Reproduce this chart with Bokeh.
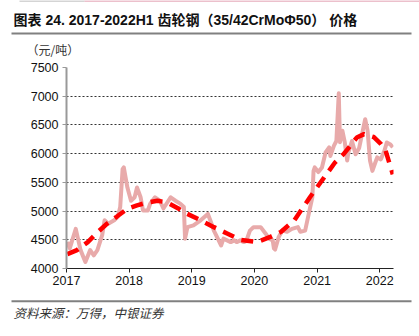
import pandas as pd
from bokeh.plotting import figure
from bokeh.layouts import column
from bokeh.models import Range1d, FixedTicker, DatetimeTickFormatter, ColumnDataSource
from bokeh.core.properties import value
from bokeh.embed import file_html
from bokeh.resources import INLINE

# ---------------- data ----------------
title_text = "图表 24. 2017-2022H1 齿轮钢（35/42CrMoΦ50） 价格"
unit_text = "（元/吨）"
source_text = "资料来源：万得，中银证券"

price_dates = [
    "2017-01-06", "2017-01-20", "2017-02-24", "2017-03-24", "2017-04-21", "2017-05-19",
    "2017-06-09", "2017-06-30", "2017-07-28", "2017-08-11", "2017-09-01", "2017-10-06",
    "2017-10-27", "2017-11-10", "2017-11-24", "2017-12-01", "2017-12-22", "2018-01-12",
    "2018-02-02", "2018-02-16", "2018-03-09", "2018-03-23", "2018-04-20", "2018-05-04",
    "2018-06-01", "2018-06-29", "2018-07-20", "2018-08-31", "2018-09-28", "2018-10-26",
    "2018-11-16", "2018-11-23", "2018-12-07", "2019-01-11", "2019-02-22", "2019-04-05",
    "2019-04-19", "2019-05-10", "2019-06-07", "2019-06-21", "2019-07-05", "2019-07-26",
    "2019-08-16", "2019-09-06", "2019-09-20", "2019-10-11", "2019-11-01", "2019-11-15",
    "2019-12-06", "2019-12-27", "2020-02-07", "2020-03-06", "2020-03-27", "2020-04-17",
    "2020-04-24", "2020-05-01", "2020-05-22", "2020-06-12", "2020-07-10", "2020-08-07",
    "2020-09-11", "2020-09-25", "2020-10-23", "2020-11-13", "2020-12-04", "2020-12-11",
    "2020-12-18", "2021-01-08", "2021-01-29", "2021-02-19", "2021-03-12", "2021-03-19",
    "2021-04-09", "2021-04-23", "2021-05-07", "2021-05-14", "2021-05-28", "2021-06-11",
    "2021-06-25", "2021-07-02", "2021-07-23", "2021-08-13", "2021-09-03", "2021-09-24",
    "2021-10-08", "2021-10-22", "2021-11-05", "2021-11-19", "2021-12-03", "2021-12-17",
    "2022-01-07", "2022-01-28", "2022-02-11", "2022-03-04", "2022-03-18",
]
price_values = [
    4460, 4350, 4690, 4320, 4115, 4320,
    4230, 4320, 4580, 4840, 4780, 4840,
    4900, 5070, 5730, 5760, 5410, 5180,
    5240, 5410, 5240, 5010, 5010, 5130,
    5240, 5180, 5045, 5240, 5180, 5130,
    5070, 4520, 4720, 4750, 4840, 4950,
    4840, 4660, 4490, 4400, 4520, 4490,
    4460, 4490, 4460, 4490, 4460, 4480,
    4660, 4720, 4720, 4610, 4520, 4490,
    4350, 4330, 4550, 4660, 4640, 4690,
    4720, 4640, 4660, 4950, 5240, 5700,
    5760, 5680, 5760, 6020, 6110, 5960,
    6140, 6220, 7050, 6200, 6400, 6200,
    5880, 6020, 6220, 5990, 6100, 6400,
    6600, 6400, 5880, 5700, 5820, 5935,
    5900, 6050, 6195, 6160, 6110,
]

trend_dates = [
    "2017-01-06", "2017-03-03", "2017-05-05", "2017-06-30", "2017-08-25", "2017-10-20",
    "2017-12-22", "2018-02-16", "2018-04-20", "2018-06-15", "2018-08-10", "2018-10-12",
    "2018-11-16", "2019-02-22", "2019-05-10", "2019-07-26", "2019-10-11", "2020-01-17",
    "2020-04-03", "2020-06-05", "2020-08-21", "2020-11-20", "2021-02-12", "2021-04-16",
    "2021-06-04", "2021-08-20", "2021-10-01", "2021-11-26", "2022-01-07", "2022-02-04",
    "2022-03-18",
]
trend_values = [
    4250, 4320, 4460, 4630, 4780, 4900,
    5040, 5100, 5150, 5180, 5150, 5050,
    4980, 4840, 4720, 4610, 4500, 4460,
    4550, 4640, 4840, 5240, 5590, 5850,
    5990, 6280, 6340, 6290, 6170, 6050,
    5640,
]

year_ticks = ["2017-01-01", "2018-01-01", "2019-01-01", "2020-01-01", "2021-01-01", "2022-01-01"]
y_ticks = [4000, 4500, 5000, 5500, 6000, 6500, 7000, 7500]

W = 419
MIXED = "Liberation Sans, Noto Sans CJK SC"
CJK = "Noto Sans CJK SC"


def no_align(f):
    try:
        f.frame_align = False
    except Exception:
        pass


def blank_fig(h):
    f = figure(width=W, height=h, x_range=Range1d(0, W), y_range=Range1d(h, 0),
               output_backend="svg", toolbar_location=None, min_border=0,
               min_border_left=0, min_border_right=0, min_border_top=0, min_border_bottom=0)
    f.axis.visible = False
    f.grid.visible = False
    f.outline_line_color = None
    f.background_fill_color = "white"
    f.border_fill_color = "white"
    no_align(f)
    return f


# ---------------- header ----------------
hdr = blank_fig(58)
hdr.segment(x0=[19], y0=[0.5], x1=[84], y1=[0.5], line_color="#AAAAAA", line_width=1)
hdr.segment(x0=[84], y0=[0.5], x1=[419], y1=[0.5], line_color="#D9829A", line_width=1.2)
hdr.text(x=[13], y=[19.5], text=[title_text], text_font=value(MIXED), text_font_style="bold",
         text_font_size="14px", text_baseline="middle", text_color="#111111")
hdr.segment(x0=[11], y0=[33], x1=[411], y1=[33], line_color="#808080", line_width=2)
hdr.text(x=[26], y=[49], text=[unit_text], text_font=value(CJK),
         text_font_size="12px", text_baseline="middle", text_color="#333333")

# ---------------- main chart ----------------
pdates = pd.to_datetime(price_dates)
tdates = pd.to_datetime(trend_dates)
tick_ms = [int(pd.Timestamp(t).value // 10**6) for t in year_ticks]

p = figure(width=W, height=240, x_axis_type="datetime",
           x_range=Range1d(pd.Timestamp("2017-01-01"), pd.Timestamp("2022-03-22")),
           y_range=Range1d(4000, 7500),
           output_backend="svg", toolbar_location=None,
           min_border_left=66, min_border_right=26, min_border_top=9, min_border_bottom=30)
no_align(p)
p.outline_line_color = None
p.background_fill_color = "white"
p.border_fill_color = "white"

p.xgrid.visible = False
p.ygrid.grid_line_color = "#333333"
p.ygrid.grid_line_dash = "2 2"
p.ygrid.grid_line_width = 1

p.yaxis.ticker = FixedTicker(ticks=y_ticks)
p.yaxis.axis_line_color = "#999999"
p.yaxis.axis_line_width = 2
p.yaxis.major_tick_line_color = "#999999"
p.yaxis.major_tick_out = 4
p.yaxis.major_tick_in = 0
p.yaxis.minor_tick_line_color = None
p.yaxis.major_label_text_font = "Liberation Sans"
p.yaxis.major_label_text_font_size = "12.5px"
p.yaxis.major_label_text_color = "#111111"
p.yaxis.major_label_standoff = 4

p.xaxis.ticker = FixedTicker(ticks=tick_ms)
p.xaxis.formatter = DatetimeTickFormatter(years="%Y", months="%Y", days="%Y", hours="%Y",
                                          minutes="%Y", seconds="%Y", milliseconds="%Y")
p.xaxis.axis_line_color = "#222222"
p.xaxis.axis_line_width = 1
p.xaxis.major_tick_line_color = "#222222"
p.xaxis.major_tick_out = 4
p.xaxis.major_tick_in = 0
p.xaxis.minor_tick_line_color = None
p.xaxis.major_label_text_font = "Liberation Sans"
p.xaxis.major_label_text_font_size = "12.5px"
p.xaxis.major_label_text_color = "#111111"
p.xaxis.major_label_standoff = 3

src_price = ColumnDataSource(dict(x=pdates, y=price_values))
src_trend = ColumnDataSource(dict(x=tdates, y=trend_values))
p.line("x", "y", source=src_price, line_color="#E8AAAA", line_width=4, line_join="round")
p.line("x", "y", source=src_trend, line_color="#FF0000", line_width=4.5, line_dash="12 8")

# ---------------- footer ----------------
ftr = blank_fig(38)
ftr.segment(x0=[11], y0=[2.7], x1=[411], y1=[2.7], line_color="#808080", line_width=2)
ftr.text(x=[13], y=[13.5], text=[source_text], text_font=value(CJK), text_font_style="italic",
         text_font_size="12.5px", text_baseline="middle", text_color="#333333")

layout = column(hdr, p, ftr, spacing=0)
open("out.html", "w").write(file_html(layout, INLINE))
